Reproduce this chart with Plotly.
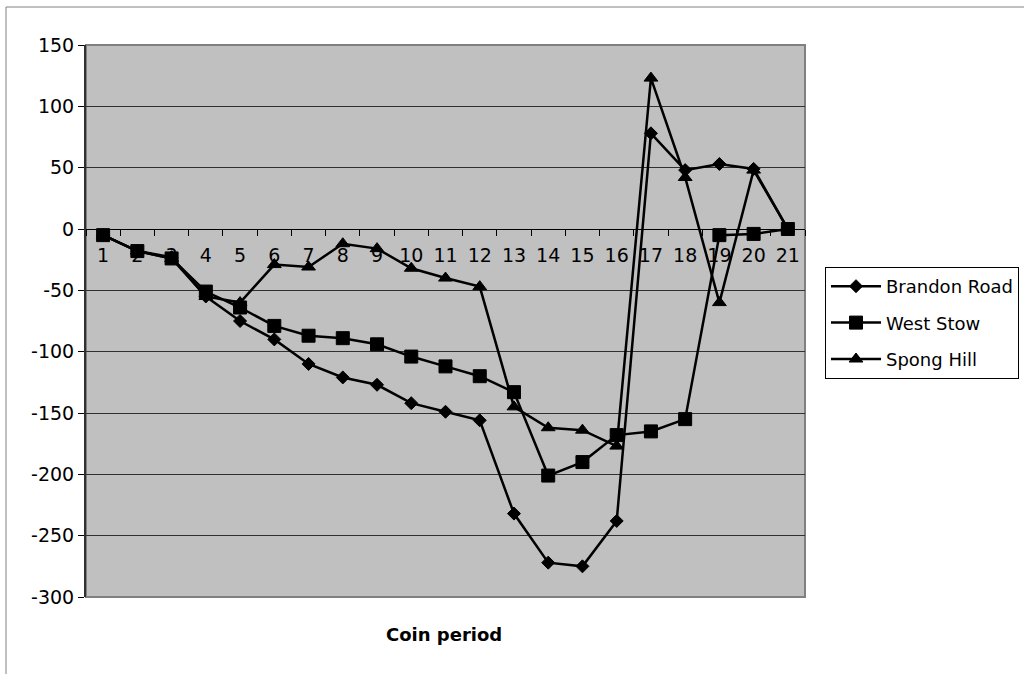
import plotly.graph_objects as go

# Coin period categories and cumulative values for each site
periods = [str(i) for i in range(1, 22)]
brandon_road = [-5, -18, -23, -55, -75, -90, -110, -121, -127, -142, -149,
                -156, -232, -272, -275, -238, 78, 48, 53, 49, 0]
west_stow = [-5, -18, -24, -51, -64, -79, -87, -89, -94, -104, -112,
             -120, -133, -201, -190, -168, -165, -155, -5, -4, 0]
spong_hill = [-5, -18, -24, -55, -60, -29, -31, -12, -16, -32, -40,
              -47, -145, -162, -164, -177, 123, 42, -60, 48, 0]
y_ticks = [150, 100, 50, 0, -50, -100, -150, -200, -250, -300]
y_tick_text = [str(v) for v in y_ticks]

FONT = "DejaVu Sans"
W, H = 1024, 674
L, R, T, B = 86, 805, 45, 597

fig = go.Figure()

series = [
    ("Brandon Road", brandon_road, "diamond", 10),
    ("West Stow", west_stow, "square", 13),
    ("Spong Hill", spong_hill, "triangle-up", 12),
]
for name, vals, sym, size in series:
    fig.add_trace(go.Scatter(
        x=periods, y=vals, name=name, mode="lines+markers",
        legendgroup=name,
        line=dict(color="black", width=2.5),
        marker=dict(symbol=sym, size=size, color="black",
                    line=dict(color="black", width=1)),
    ))

y_min, y_max = -300, 150
zero_pos = (0 - y_min) / (y_max - y_min)

fig.update_layout(
    width=W, height=H,
    margin=dict(l=L, r=W - R, t=T, b=H - B, pad=0, autoexpand=False),
    paper_bgcolor="white",
    plot_bgcolor="#C0C0C0",
    font=dict(family=FONT, size=18, color="black"),
    showlegend=True,
    legend=dict(
        xref="container", yref="container",
        x=825 / W, y=1 - 267 / H,
        xanchor="left", yanchor="top",
        bordercolor="black", borderwidth=1, bgcolor="white",
        font=dict(family=FONT, size=18, color="black"),
        itemwidth=50, traceorder="grouped", tracegroupgap=10,
    ),
    xaxis=dict(
        type="category", range=[-0.5, 20.5],
        anchor="free", position=zero_pos,
        showline=True, linecolor="black", linewidth=1,
        ticks="outside", tickson="boundaries", ticklen=6, tickcolor="black",
        showgrid=False, zeroline=False,
        tickfont=dict(family=FONT, size=19, color="black"),
        ticklabelstandoff=9,
    ),
    yaxis=dict(
        range=[y_min, y_max], tickvals=y_ticks, ticktext=y_tick_text,
        showline=True, linecolor="#303030", linewidth=2,
        ticks="outside", ticklen=6, tickcolor="black",
        showgrid=True, gridcolor="#303030", gridwidth=1,
        zeroline=False,
        tickfont=dict(family=FONT, size=19, color="black"),
    ),
    shapes=[
        # plot area frame
        dict(type="rect", xref="paper", yref="paper", x0=0, y0=0, x1=1, y1=1,
             line=dict(color="#808080", width=2), layer="below"),
        # chart area border
        dict(type="rect", xref="paper", yref="paper",
             x0=(6 - L) / (R - L), y0=(B - 690) / (B - T),
             x1=(1040 - L) / (R - L), y1=(B - 7) / (B - T),
             line=dict(color="#808080", width=1)),
    ],
    annotations=[
        dict(text="<b>Coin period</b>", xref="paper", yref="paper",
             x=(444 - L) / (R - L), y=(B - 634) / (B - T),
             xanchor="center", yanchor="middle", showarrow=False,
             font=dict(family=FONT, size=18, color="black")),
    ],
)

fig.write_html("out.html")
